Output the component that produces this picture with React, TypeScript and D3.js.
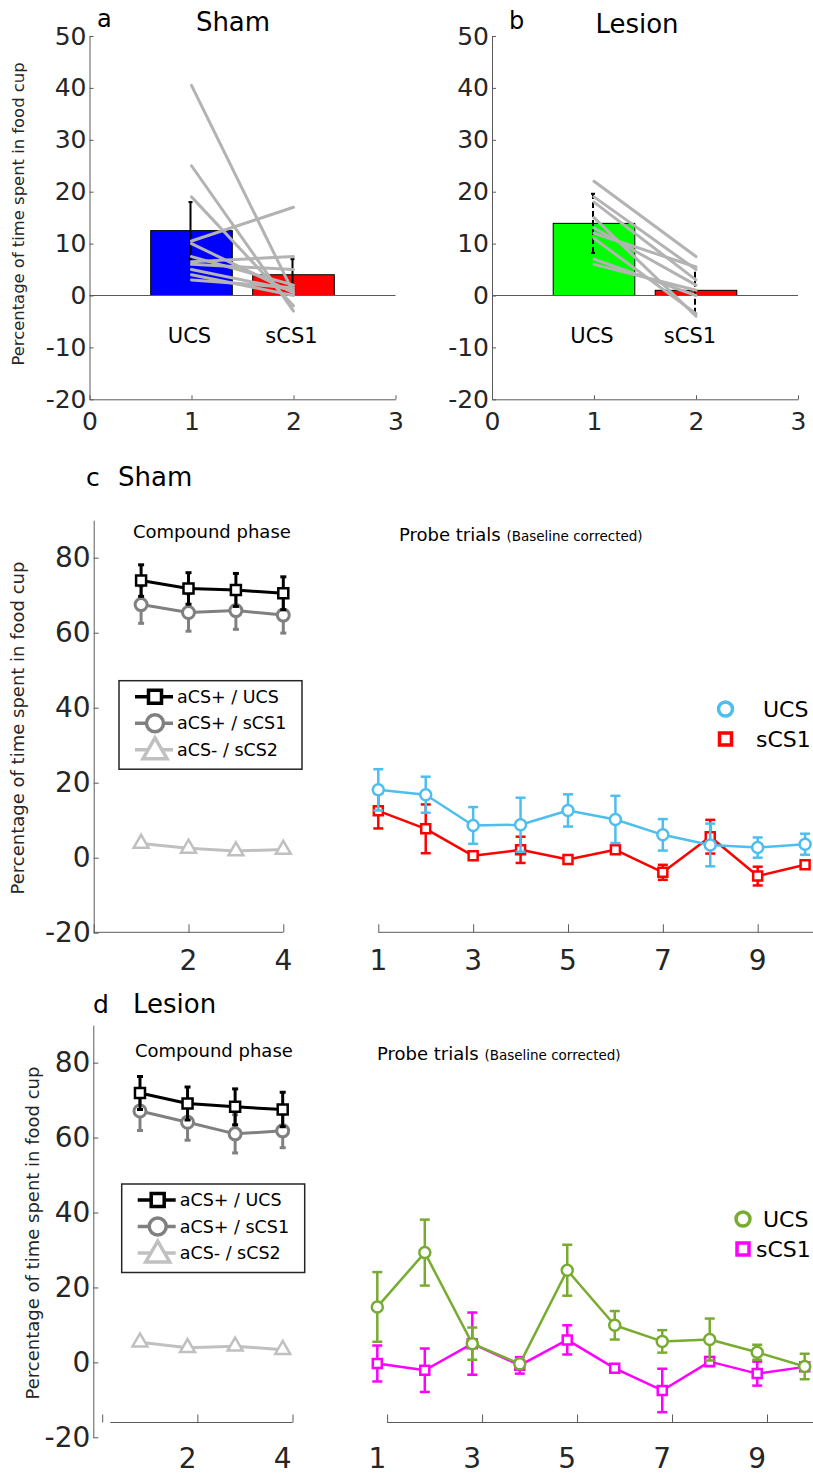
import React, { useEffect, useRef } from 'react';
import * as d3 from 'd3';

const W = 813;
const H = 1476;
const FONT = '"DejaVu Sans", Verdana, sans-serif';
const INK = '#262626';
const AXIS = '#5a5a5a';

// ---- panels a / b : bar + individual rats ----
const barLabels = ['UCS', 'sCS1'];
const shamBarMeans = [12.5, 4.0];
const shamBarErr = [5.5, 3.0];
const lesionBarMeans = [13.9, 1.0];
const lesionBarErr = [5.7, 4.5];
const shamRatUcs = [40.5, 25, 19, 10.5, 10, 7.5, 6.5, 6, 5, 4, 3];
const shamRatScs1 = [0.5, -3, -2, 17, 0.5, 2, 7.5, 5, 1, 0, 1.5];
const lesionRatUcs = [22, 19, 18, 15, 13, 12, 11, 7, 6];
const lesionRatScs1 = [7.5, 5, 3, -4, 2, 5.5, -3.5, 0, 1];
const barYTicks = [-20, -10, 0, 10, 20, 30, 40, 50];
const barXTicks = [0, 1, 2, 3];

// ---- panels c / d : compound phase + probe trials ----
const compoundTrials = [1, 2, 3, 4];
const probeTrials = [1, 2, 3, 4, 5, 6, 7, 8, 9, 10];
const lineYTicks = [-20, 0, 20, 40, 60, 80];
const compoundXTicks = [2, 4];
const probeXTicks = [1, 3, 5, 7, 9];
const compoundNames = ['aCS+ / UCS', 'aCS+ / sCS1', 'aCS- / sCS2'];
const probeNames = ['UCS', 'sCS1'];

const shamCompUcs = [73.9, 71.8, 71.4, 70.5];
const shamCompUcsErr = [4.2, 4.2, 4.4, 4.4];
const shamCompScs1 = [67.5, 65.4, 65.9, 64.7];
const shamCompScs1Err = [5.0, 5.0, 5.0, 4.8];
const shamCompScs2 = [3.8, 2.5, 1.8, 2.2];
const shamCompScs2Err = [0.5, 0.5, 0.5, 0.5];

const shamProbeUcs = [18.1, 16.8, 8.6, 8.8, 12.6, 10.2, 6.1, 3.4, 2.7, 3.6];
const shamProbeUcsErr = [5.5, 4.8, 4.9, 7.2, 4.3, 6.3, 4.2, 5.7, 2.7, 2.8];
const shamProbeScs1 = [12.5, 7.7, 0.5, 2.1, -0.5, 2.1, -3.9, 5.6, -4.9, -1.9];
const shamProbeScs1Err = [4.7, 6.5, 1.0, 3.5, 0.8, 1.0, 2.0, 4.5, 2.5, 0.8];

const lesionCompUcs = [71.9, 69.1, 68.2, 67.5];
const lesionCompUcsErr = [4.4, 4.4, 4.8, 4.6];
const lesionCompScs1 = [67.1, 64.1, 61.0, 61.8];
const lesionCompScs1Err = [5.2, 4.8, 5.1, 4.5];
const lesionCompScs2 = [5.4, 3.9, 4.3, 3.4];
const lesionCompScs2Err = [0.5, 0.5, 0.5, 0.5];

const lesionProbeUcs = [14.8, 29.3, 5.0, -0.4, 24.6, 9.9, 5.6, 6.1, 2.7, -1.1];
const lesionProbeUcsErr = [9.3, 8.8, 4.3, 1.0, 6.8, 3.8, 3.0, 5.6, 2.0, 3.4];
const lesionProbeScs1 = [-0.3, -2.1, 5.0, -0.8, 6.0, -1.6, -7.5, 0.2, -3.0, -1.2];
const lesionProbeScs1Err = [4.8, 5.8, 8.3, 2.2, 3.9, 0.8, 5.8, 1.2, 3.2, 0.8];

const YLABEL = 'Percentage of time spent in food cup';

// plain hyphen for negatives, like the original figure
const fmt = d => String(d);

function styleAxis(g, size) {
  g.select('.domain').attr('stroke', AXIS).attr('stroke-width', 1);
  g.selectAll('.tick line').attr('stroke', AXIS);
  g.selectAll('.tick text').attr('fill', INK).style('font-family', FONT).style('font-size', size + 'px');
}

function drawBarPanel(svg, cfg) {
  const x = d3.scaleLinear().domain([0, 3]).range([cfg.left, cfg.left + 306]);
  const y = d3.scaleLinear().domain([-20, 50]).range([399.3, 36]);
  const g = svg.append('g');

  g.selectAll('rect.bar').data(cfg.means).join('rect')
    .attr('class', 'bar')
    .attr('x', (d, i) => x(i + 1 - 0.4))
    .attr('width', x(0.8) - x(0))
    .attr('y', d => y(Math.max(0, d)))
    .attr('height', d => Math.abs(y(0) - y(d)))
    .attr('fill', (d, i) => cfg.colors[i])
    .attr('stroke', '#000')
    .attr('stroke-width', 1);

  g.append('line')
    .attr('x1', x(0)).attr('x2', x(3))
    .attr('y1', y(0)).attr('y2', y(0))
    .attr('stroke', AXIS).attr('stroke-width', 1);

  // error bars
  const eb = g.selectAll('g.err').data(cfg.means).join('g').attr('class', 'err');
  eb.append('line')
    .attr('x1', (d, i) => x(i + 1) - 1).attr('x2', (d, i) => x(i + 1) - 1)
    .attr('y1', (d, i) => y(d - cfg.errs[i])).attr('y2', (d, i) => y(d + cfg.errs[i]))
    .attr('stroke', '#000').attr('stroke-width', 2)
    .attr('stroke-dasharray', cfg.dashed ? '6,3' : null);
  eb.append('line')
    .attr('x1', (d, i) => x(i + 1) - 3).attr('x2', (d, i) => x(i + 1) + 1)
    .attr('y1', (d, i) => y(d + cfg.errs[i])).attr('y2', (d, i) => y(d + cfg.errs[i]))
    .attr('stroke', '#000').attr('stroke-width', 2);
  eb.append('line')
    .attr('x1', (d, i) => x(i + 1) - 3).attr('x2', (d, i) => x(i + 1) + 1)
    .attr('y1', (d, i) => y(d - cfg.errs[i])).attr('y2', (d, i) => y(d - cfg.errs[i]))
    .attr('stroke', '#000').attr('stroke-width', 2);

  // individual animals
  g.selectAll('line.rat').data(cfg.ucs).join('line')
    .attr('class', 'rat')
    .attr('x1', x(1)).attr('x2', x(2))
    .attr('y1', d => y(d)).attr('y2', (d, i) => y(cfg.scs1[i]))
    .attr('stroke', '#b3b3b3').attr('stroke-width', 3).attr('stroke-linecap', 'round');

  g.append('g')
    .attr('transform', `translate(${x(0)},0)`)
    .call(d3.axisLeft(y).tickValues(barYTicks).tickSizeInner(-4).tickSizeOuter(0).tickPadding(3).tickFormat(fmt))
    .call(a => styleAxis(a, 25));

  g.append('g')
    .attr('transform', `translate(0,${y(-20)})`)
    .call(d3.axisBottom(x).tickValues(barXTicks).tickSizeInner(-4).tickSizeOuter(0).tickPadding(13).tickFormat(fmt))
    .call(a => styleAxis(a, 25));

  g.selectAll('text.cat').data(barLabels).join('text')
    .attr('class', 'cat')
    .attr('x', (d, i) => x(i + 1) - 2 - (cfg.left > 300 ? i * 4 : 0))
    .attr('y', 343)
    .attr('text-anchor', 'middle')
    .style('font-family', FONT).style('font-size', '21px').attr('fill', '#000')
    .text(d => d);

  g.append('text').attr('x', cfg.letterX).attr('y', cfg.letterY)
    .style('font-family', FONT).style('font-size', '24px').text(cfg.letter);
  g.append('text').attr('x', cfg.titleX).attr('y', cfg.titleY).attr('text-anchor', 'middle')
    .style('font-family', FONT).style('font-size', '26px').text(cfg.title);

  if (cfg.ylabel) {
    g.append('text')
      .attr('transform', `translate(24,214) rotate(-90)`)
      .attr('text-anchor', 'middle')
      .style('font-family', FONT).style('font-size', '16.4px').attr('fill', INK)
      .text(YLABEL);
  }
}

function marker(kind, size) {
  if (kind === 'square') return d3.symbol(d3.symbolSquare, size * size)();
  if (kind === 'triangle') return d3.symbol(d3.symbolTriangle, size * size * 0.433)();
  return d3.symbol(d3.symbolCircle, Math.PI * (size / 2) * (size / 2))();
}

function drawSeries(g, x, y, xs, vals, errs, s) {
  const pts = xs.map((t, i) => ({ t, v: vals[i], e: errs[i] }));
  const cap = s.cap;
  const eg = g.append('g');
  pts.forEach(p => {
    eg.append('line').attr('x1', x(p.t)).attr('x2', x(p.t)).attr('y1', y(p.v - p.e)).attr('y2', y(p.v + p.e))
      .attr('stroke', s.color).attr('stroke-width', s.lw);
    [p.v - p.e, p.v + p.e].forEach(v => {
      eg.append('line').attr('x1', x(p.t) - cap).attr('x2', x(p.t) + cap).attr('y1', y(v)).attr('y2', y(v))
        .attr('stroke', s.color).attr('stroke-width', s.lw);
    });
  });
  g.append('path')
    .datum(pts)
    .attr('d', d3.line().x(d => x(d.t)).y(d => y(d.v)))
    .attr('fill', 'none').attr('stroke', s.color).attr('stroke-width', s.lw).attr('stroke-linejoin', 'round');
  g.selectAll(null).data(pts).join('path')
    .attr('d', marker(s.kind, s.size))
    .attr('transform', d => `translate(${x(d.t)},${y(d.v)})`)
    .attr('fill', '#fff').attr('stroke', s.color).attr('stroke-width', s.mw);
}

function drawLinePanel(svg, cfg) {
  const g = svg.append('g');
  const y = d3.scaleLinear().domain([-20, 90]).range(cfg.yRange);
  const xc = d3.scaleLinear().domain([0, 4]).range(cfg.compRange);
  const xp = d3.scaleLinear().domain([1, 10]).range(cfg.probeRange);

  // y axis
  g.append('g')
    .attr('transform', `translate(${cfg.yAxisX},0)`)
    .call(d3.axisLeft(y).tickValues(lineYTicks).tickSizeInner(-5).tickSizeOuter(0).tickPadding(3).tickFormat(fmt))
    .call(a => styleAxis(a, 28));

  // compound x axis (ticks only, labels separately)
  const xcAxis = xc.copy().range(cfg.compRange.map(v => v + cfg.axisShift));
  const ca = g.append('g')
    .attr('transform', `translate(0,${cfg.xAxisY})`)
    .call(d3.axisBottom(xcAxis).tickValues(cfg.compTicks).tickSizeInner(-8).tickSizeOuter(0).tickFormat(() => ''))
    .call(a => styleAxis(a, 28));
  ca.select('.domain').attr('d', `M${xcAxis(cfg.compLineStart)},0H${xcAxis(4)}`);

  const xpAxis = xp.copy().range(cfg.probeRange.map(v => v + cfg.axisShift));
  const pa = g.append('g')
    .attr('transform', `translate(0,${cfg.xAxisY})`)
    .call(d3.axisBottom(xpAxis).tickValues(probeXTicks).tickSizeInner(-8).tickSizeOuter(0).tickFormat(() => ''))
    .call(a => styleAxis(a, 28));
  pa.select('.domain').attr('d', `M${xpAxis(1)},0H${W}`);

  g.selectAll(null).data(compoundXTicks).join('text')
    .attr('x', d => xc(d)).attr('y', cfg.labelY).attr('text-anchor', 'middle')
    .style('font-family', FONT).style('font-size', '28px').attr('fill', INK).text(fmt);
  g.selectAll(null).data(probeXTicks).join('text')
    .attr('x', d => xp(d)).attr('y', cfg.labelY).attr('text-anchor', 'middle')
    .style('font-family', FONT).style('font-size', '28px').attr('fill', INK).text(fmt);

  // compound series
  const compStyles = [
    { color: '#c0c0c0', kind: 'triangle', size: 15, lw: 3, mw: 2.5, cap: 3 },
    { color: '#808080', kind: 'circle', size: 12, lw: 3, mw: 3, cap: 3 },
    { color: '#000000', kind: 'square', size: 10, lw: 3, mw: 2.5, cap: 3 },
  ];
  drawSeries(g, xc, y, compoundTrials, cfg.comp[2], cfg.compErr[2], compStyles[0]);
  drawSeries(g, xc, y, compoundTrials, cfg.comp[1], cfg.compErr[1], compStyles[1]);
  drawSeries(g, xc, y, compoundTrials, cfg.comp[0], cfg.compErr[0], compStyles[2]);

  // probe series
  const probeStyles = [
    { color: cfg.ucsColor, kind: 'circle', size: 11, lw: 2.5, mw: 2.5, cap: 5 },
    { color: cfg.scsColor, kind: 'square', size: 9, lw: 2.5, mw: 2.5, cap: 5 },
  ];
  drawSeries(g, xp, y, probeTrials, cfg.probe[1], cfg.probeErr[1], probeStyles[1]);
  drawSeries(g, xp, y, probeTrials, cfg.probe[0], cfg.probeErr[0], probeStyles[0]);

  // compound legend
  const lg = g.append('g').attr('transform', `translate(${cfg.legX},${cfg.legY})`);
  lg.append('rect').attr('width', 183).attr('height', 88.5).attr('fill', '#fff')
    .attr('stroke', INK).attr('stroke-width', 1.5);
  const legStyles = [compStyles[2], compStyles[1], compStyles[0]];
  const legSize = [13, 17, 24];
  compoundNames.forEach((name, i) => {
    const ry = 16 + i * 26.5;
    lg.append('line').attr('x1', 16).attr('x2', 54).attr('y1', ry).attr('y2', ry)
      .attr('stroke', legStyles[i].color).attr('stroke-width', 3.5);
    lg.append('path').attr('d', marker(legStyles[i].kind, legSize[i]))
      .attr('transform', `translate(36,${ry + (legStyles[i].kind === 'triangle' ? 2 : 0)})`)
      .attr('fill', '#fff').attr('stroke', legStyles[i].color).attr('stroke-width', 3.5);
    lg.append('text').attr('x', 58).attr('y', ry).attr('dominant-baseline', 'central')
      .style('font-family', FONT).style('font-size', '17.5px').attr('fill', '#000').text(name);
  });

  // probe legend
  probeNames.forEach((name, i) => {
    const ry = cfg.pLegY + i * 30;
    const st = probeStyles[i];
    g.append('path').attr('d', marker(st.kind, i === 0 ? 14 : 12))
      .attr('transform', `translate(${cfg.pLegX},${ry})`)
      .attr('fill', '#fff').attr('stroke', st.color).attr('stroke-width', 3.5);
    g.append('text').attr('x', cfg.pLegTextX[i]).attr('y', ry).attr('dominant-baseline', 'central')
      .style('font-family', FONT).style('font-size', '22px').attr('fill', '#000').text(name);
  });

  // texts
  g.append('text').attr('x', cfg.compTextX).attr('y', cfg.phaseY)
    .style('font-family', FONT).style('font-size', '18px').text('Compound phase');
  const pt = g.append('text').attr('x', cfg.probeTextX).attr('y', cfg.phaseY + 3)
    .style('font-family', FONT).style('font-size', '18px');
  pt.append('tspan').text('Probe trials ');
  pt.append('tspan').style('font-size', '13.5px').text('(Baseline corrected)');

  g.append('text').attr('x', cfg.letterX).attr('y', cfg.titleY)
    .style('font-family', FONT).style('font-size', '25px').text(cfg.letter);
  g.append('text').attr('x', cfg.titleX).attr('y', cfg.titleY)
    .style('font-family', FONT).style('font-size', '26px').text(cfg.title);

  g.append('text')
    .attr('transform', `translate(${cfg.ylabX},${cfg.ylabY}) rotate(-90)`)
    .attr('text-anchor', 'middle')
    .style('font-family', FONT).style('font-size', '18px').attr('fill', INK)
    .text(YLABEL);
}

export default function App() {
  const ref = useRef(null);

  useEffect(() => {
    const svg = d3.select(ref.current);
    svg.selectAll('*').remove();

    drawBarPanel(svg, {
      left: 89.5, means: shamBarMeans, errs: shamBarErr, ucs: shamRatUcs, scs1: shamRatScs1,
      colors: ['#0000ff', '#ff0000'], dashed: false,
      letter: 'a', letterX: 97, letterY: 27, title: 'Sham', titleX: 233, titleY: 31, ylabel: true,
    });
    drawBarPanel(svg, {
      left: 492, means: lesionBarMeans, errs: lesionBarErr, ucs: lesionRatUcs, scs1: lesionRatScs1,
      colors: ['#00ff00', '#ff0000'], dashed: true,
      letter: 'b', letterX: 509, letterY: 29, title: 'Lesion', titleX: 637, titleY: 33, ylabel: false,
    });

    drawLinePanel(svg, {
      yRange: [932.7, 520.2], compRange: [93.7, 283.3], probeRange: [378.3, 805.1],
      yAxisX: 93.7, xAxisY: 932.3, axisShift: 0, compTicks: [0, 2, 4], compLineStart: 0, labelY: 970,
      comp: [shamCompUcs, shamCompScs1, shamCompScs2],
      compErr: [shamCompUcsErr, shamCompScs1Err, shamCompScs2Err],
      probe: [shamProbeUcs, shamProbeScs1],
      probeErr: [shamProbeUcsErr, shamProbeScs1Err],
      ucsColor: '#4dbeee', scsColor: '#ff0000',
      legX: 119, legY: 680.7, pLegX: 725.5, pLegY: 709, pLegTextX: [763, 756],
      compTextX: 133, probeTextX: 399, phaseY: 538,
      letter: 'c', letterX: 86, title: 'Sham', titleX: 118, titleY: 486,
      ylabX: 24, ylabY: 728,
    });
    drawLinePanel(svg, {
      yRange: [1437.3, 1025.2], compRange: [92.4, 282.7], probeRange: [377.3, 804.7],
      yAxisX: 93.3, xAxisY: 1422.5, axisShift: 9.8, compTicks: [0, 2, 4], compLineStart: 0.17, labelY: 1468,
      comp: [lesionCompUcs, lesionCompScs1, lesionCompScs2],
      compErr: [lesionCompUcsErr, lesionCompScs1Err, lesionCompScs2Err],
      probe: [lesionProbeUcs, lesionProbeScs1],
      probeErr: [lesionProbeUcsErr, lesionProbeScs1Err],
      ucsColor: '#77ac30', scsColor: '#ff00ff',
      legX: 121.7, legY: 1184, pLegX: 743, pLegY: 1219, pLegTextX: [763, 756],
      compTextX: 135, probeTextX: 377, phaseY: 1057,
      letter: 'd', letterX: 93, title: 'Lesion', titleX: 133, titleY: 1013,
      ylabX: 39, ylabY: 1233,
    });
  }, []);

  return (
    <svg
      ref={ref}
      width={W}
      height={H}
      style={{ position: 'absolute', left: 0, top: 0, background: '#fff' }}
    />
  );
}
